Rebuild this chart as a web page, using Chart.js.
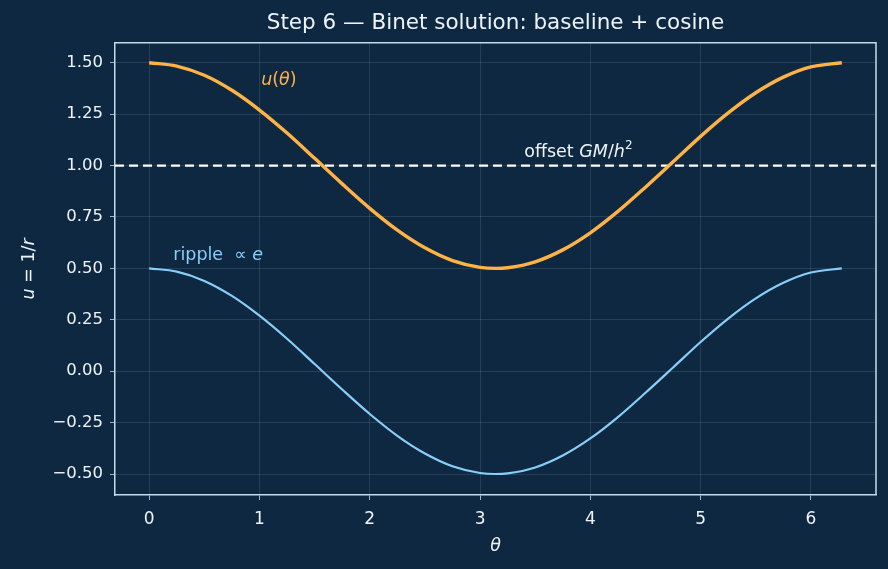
<!DOCTYPE html>
<html>
<head>
<meta charset="utf-8">
<script src="https://cdn.jsdelivr.net/npm/chart.js@4/dist/chart.umd.min.js"></script>
<style>
  html, body { margin: 0; padding: 0; background: #0e2841; }
  #wrap { width: 888px; height: 569px; }
</style>
</head>
<body>
<div id="wrap"><canvas id="c" width="888" height="569"></canvas></div>
<script>
/* ── Data ── */
const theta  = [0, 0.25, 0.5, 0.75, 1, 1.25, 1.5, 1.75, 2, 2.25, 2.5, 2.75, 3, 3.14, 3.25, 3.5, 3.75, 4, 4.25, 4.5, 4.75, 5, 5.25, 5.5, 5.75, 6, 6.28];
const uVals  = [1.500, 1.484, 1.439, 1.366, 1.270, 1.158, 1.035, 0.911, 0.792, 0.686, 0.600, 0.538, 0.505, 0.500, 0.503, 0.532, 0.590, 0.673, 0.777, 0.895, 1.018, 1.142, 1.256, 1.354, 1.430, 1.480, 1.500];
const ripple = [0.500, 0.484, 0.439, 0.366, 0.270, 0.158, 0.035, -0.089, -0.208, -0.314, -0.400, -0.462, -0.495, -0.500, -0.497, -0.468, -0.410, -0.327, -0.223, -0.105, 0.018, 0.142, 0.256, 0.354, 0.430, 0.480, 0.500];
const offsetX = [-0.31, 6.59];
const offsetY = [1.0, 1.0];
const xTicks = [0, 1, 2, 3, 4, 5, 6];
const yTicks = [-0.50, -0.25, 0.00, 0.25, 0.50, 0.75, 1.00, 1.25, 1.50];

/* ── Colours / fonts ── */
const BG     = '#0e2841';
const ORANGE = '#ffb347';
const BLUE   = '#87cefa';
const FG     = '#eef3f8';
const FRAME  = '#c6dbea';
const GRID   = 'rgba(200,220,240,0.16)';
const FONT   = 'DejaVu Sans';
const LBL    = 17.5;   // annotation size

const pts = (xs, ys) => xs.map((x, i) => ({ x, y: ys[i] }));

/* background fill */
const bgPlugin = {
  id: 'bg',
  beforeDraw(chart) {
    const ctx = chart.ctx;
    ctx.save();
    ctx.fillStyle = BG;
    ctx.fillRect(0, 0, chart.width, chart.height);
    ctx.restore();
  },
};

/* draws a run of [text, style] pieces starting at x,y */
function drawRuns(ctx, runs, x, y, color, size) {
  ctx.fillStyle = color;
  ctx.textBaseline = 'alphabetic';
  ctx.textAlign = 'left';
  for (const [txt, kind] of runs) {
    if (kind === 'sup') {
      ctx.font = `${Math.round(size * 0.7)}px "${FONT}"`;
      ctx.fillText(txt, x, y - size * 0.45);
    } else {
      ctx.font = `${kind === 'it' ? 'oblique ' : ''}${size}px "${FONT}"`;
      ctx.fillText(txt, x, y);
    }
    x += ctx.measureText(txt).width;
  }
}

function runsWidth(ctx, runs, size) {
  let w = 0;
  for (const [t, k] of runs) {
    ctx.font = `${k === 'it' ? 'oblique ' : ''}${size}px "${FONT}"`;
    w += ctx.measureText(t).width;
  }
  return w;
}

/* text annotations placed in data coords, plus y axis title and the box */
const labelPlugin = {
  id: 'labels',
  afterDraw(chart) {
    const { ctx, chartArea: a, scales: { x, y } } = chart;
    ctx.save();
    drawRuns(ctx, [['u', 'it'], ['(', 'n'], ['θ', 'it'], [')', 'n']], x.getPixelForValue(1.015), y.getPixelForValue(1.393), ORANGE, LBL);
    drawRuns(ctx, [['offset ', 'n'], ['GM', 'it'], ['/', 'n'], ['h', 'it'], ['2', 'sup']], x.getPixelForValue(3.40), y.getPixelForValue(1.043), FG, LBL);
    drawRuns(ctx, [['ripple  ', 'n'], ['∝ ', 'n'], ['e', 'it']], x.getPixelForValue(0.218), y.getPixelForValue(0.541), BLUE, LBL);

    // top/right edges of the frame
    ctx.strokeStyle = FRAME;
    ctx.lineWidth = 1.5;
    ctx.beginPath();
    ctx.moveTo(a.left, a.top); ctx.lineTo(a.right, a.top); ctx.lineTo(a.right, a.bottom);
    ctx.stroke();

    // y axis title: u = 1/r
    ctx.translate(28, (a.top + a.bottom) / 2);
    ctx.rotate(-Math.PI / 2);
    const runs = [['u', 'it'], [' = 1/', 'n'], ['r', 'it']];
    drawRuns(ctx, runs, -runsWidth(ctx, runs, LBL) / 2, 6, FG, LBL);
    ctx.restore();
  },
};

new Chart(document.getElementById('c'), {
  type: 'line',
  data: {
    datasets: [
      { data: pts(theta, ripple), borderColor: BLUE, borderWidth: 2.2, pointRadius: 0, cubicInterpolationMode: 'monotone' },
      { data: pts(theta, uVals), borderColor: ORANGE, borderWidth: 3.4, pointRadius: 0, cubicInterpolationMode: 'monotone' },
      { data: pts(offsetX, offsetY), borderColor: '#ffffff', borderWidth: 2.2, borderDash: [9, 5], pointRadius: 0 },
    ],
  },
  options: {
    responsive: false,
    animation: false,
    layout: { padding: { top: 0, right: 12, left: 0, bottom: 0 } },
    plugins: {
      legend: { display: false },
      tooltip: { enabled: false },
      title: {
        display: true,
        text: 'Step 6 — Binet solution: baseline + cosine',
        color: FG,
        fullSize: false,
        font: { family: FONT, size: 21.5, weight: 'normal' },
        padding: { top: 11, bottom: 6 },
      },
    },
    scales: {
      x: {
        type: 'linear',
        min: -0.31,
        max: 6.59,
        afterBuildTicks: s => { s.ticks = xTicks.map(v => ({ value: v })); },
        afterFit: s => { s.height = 74; },
        ticks: { color: FG, font: { family: FONT, size: 17 }, padding: 9, callback: v => v.toString() },
        grid: { color: GRID, lineWidth: 0.8, tickColor: FRAME, tickLength: 5 },
        border: { color: FRAME, width: 1.5 },
        title: { display: true, text: 'θ', color: FG, font: { family: FONT, size: 17.5, style: 'italic' }, padding: { top: 0, bottom: 12 } },
      },
      y: {
        type: 'linear',
        min: -0.602,
        max: 1.597,
        afterBuildTicks: s => { s.ticks = yTicks.map(v => ({ value: v })); },
        afterFit: s => { s.width = 115; },
        ticks: { color: FG, font: { family: FONT, size: 16.5 }, padding: 7, callback: v => v.toFixed(2).replace('-', '−') },
        grid: { color: GRID, lineWidth: 0.8, tickColor: FRAME, tickLength: 5 },
        border: { color: FRAME, width: 1.5 },
      },
    },
  },
  plugins: [bgPlugin, labelPlugin],
});
</script>
</body>
</html>
